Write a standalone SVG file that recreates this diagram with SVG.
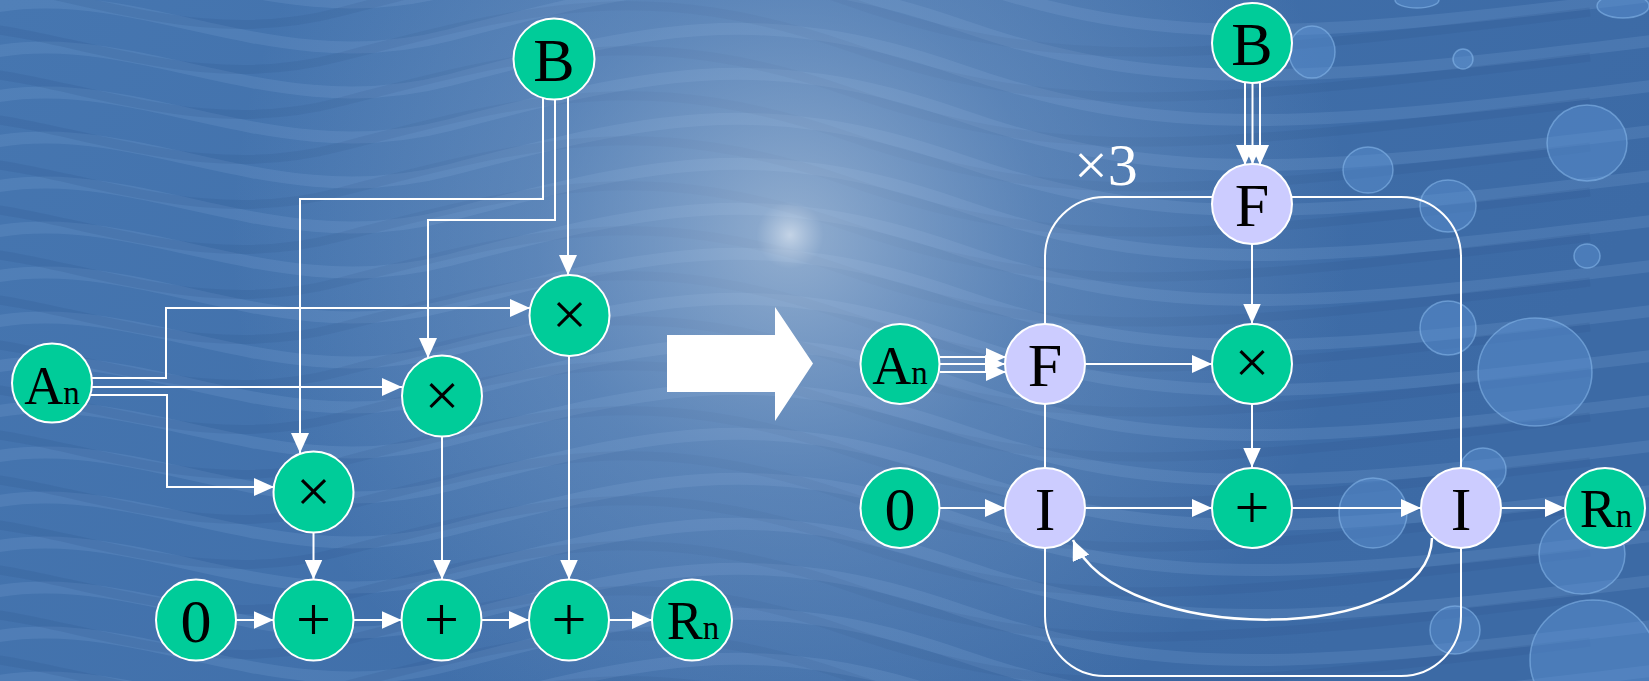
<svg xmlns="http://www.w3.org/2000/svg" xmlns:xlink="http://www.w3.org/1999/xlink" width="1649" height="681" viewBox="0 0 1649 681">
<style>
.g{fill:#00CC99;stroke:#fff;stroke-width:2}
.l{fill:#CCCCFF;stroke:#fff;stroke-width:2}
.t{font-family:"Liberation Serif","Times New Roman",serif;font-size:62px;fill:#000;text-anchor:middle}
.s{font-size:54px}
.sub{font-size:33px}
.c{fill:none;stroke:#fff;stroke-width:2}
.bub{fill:#5d93d3;fill-opacity:.45;stroke:#8bbcee;stroke-opacity:.55;stroke-width:1.5}
</style>
<defs>
<linearGradient id="base" x1="0" y1="0" x2="1" y2="0.3">
<stop offset="0" stop-color="#4676b0"/>
<stop offset="1" stop-color="#3c6aa5"/>
</linearGradient>
<radialGradient id="glow" cx="790" cy="235" r="560" gradientUnits="userSpaceOnUse">
<stop offset="0" stop-color="#e4ecf5" stop-opacity=".8"/>
<stop offset=".06" stop-color="#c6d6e8" stop-opacity=".55"/>
<stop offset=".45" stop-color="#9fbadb" stop-opacity=".28"/>
<stop offset="1" stop-color="#9fbadb" stop-opacity="0"/>
</radialGradient>
<g id="waves" fill="none">
<path d="M -40 -30 C 120 -80 260 40 450 -10 S 760 -90 960 -20 S 1300 40 1700 -10"/>
<path d="M -40 15 C 120 -35 260 85 450 35 S 760 -45 960 25 S 1300 85 1700 35"/>
<path d="M -40 60 C 120 10 260 130 450 80 S 760 0 960 70 S 1300 130 1700 80"/>
<path d="M -40 105 C 120 55 260 175 450 125 S 760 45 960 115 S 1300 175 1700 125"/>
<path d="M -40 150 C 120 100 260 220 450 170 S 760 90 960 160 S 1300 220 1700 170"/>
<path d="M -40 195 C 120 145 260 265 450 215 S 760 135 960 205 S 1300 265 1700 215"/>
<path d="M -40 240 C 120 190 260 310 450 260 S 760 180 960 250 S 1300 310 1700 260"/>
<path d="M -40 285 C 120 235 260 355 450 305 S 760 225 960 295 S 1300 355 1700 305"/>
<path d="M -40 330 C 120 280 260 400 450 350 S 760 270 960 340 S 1300 400 1700 350"/>
<path d="M -40 375 C 120 325 260 445 450 395 S 760 315 960 385 S 1300 445 1700 395"/>
<path d="M -40 420 C 120 370 260 490 450 440 S 760 360 960 430 S 1300 490 1700 440"/>
<path d="M -40 465 C 120 415 260 535 450 485 S 760 405 960 475 S 1300 535 1700 485"/>
<path d="M -40 510 C 120 460 260 580 450 530 S 760 450 960 520 S 1300 580 1700 530"/>
<path d="M -40 555 C 120 505 260 625 450 575 S 760 495 960 565 S 1300 625 1700 575"/>
<path d="M -40 600 C 120 550 260 670 450 620 S 760 540 960 610 S 1300 670 1700 620"/>
<path d="M -40 645 C 120 595 260 715 450 665 S 760 585 960 655 S 1300 715 1700 665"/>
<path d="M -40 690 C 120 640 260 760 450 710 S 760 630 960 700 S 1300 760 1700 710"/>
</g>
<marker id="ah" markerWidth="20" markerHeight="18" refX="20" refY="9" orient="auto" markerUnits="userSpaceOnUse">
<path d="M0,0 L20,9 L0,18 z" fill="#fff"/>
</marker>
</defs>

<g id="background">
<rect x="0" y="0" width="1649" height="681" fill="url(#base)"/>
<use href="#waves" stroke="#7aa6d8" stroke-opacity=".22" stroke-width="12"/>
<use href="#waves" transform="translate(-110,22)" stroke="#2c5589" stroke-opacity=".18" stroke-width="9"/>
<rect x="0" y="0" width="1649" height="681" fill="url(#glow)"/>
<ellipse class="bub" cx="1312" cy="52" rx="23" ry="26"/>
<ellipse class="bub" cx="1463" cy="59" rx="10" ry="10"/>
<ellipse class="bub" cx="1368" cy="170" rx="25" ry="23"/>
<ellipse class="bub" cx="1448" cy="206" rx="28" ry="26"/>
<ellipse class="bub" cx="1587" cy="143" rx="40" ry="38"/>
<ellipse class="bub" cx="1587" cy="256" rx="13" ry="12"/>
<ellipse class="bub" cx="1448" cy="328" rx="28" ry="27"/>
<ellipse class="bub" cx="1535" cy="372" rx="57" ry="54"/>
<ellipse class="bub" cx="1483" cy="470" rx="23" ry="22"/>
<ellipse class="bub" cx="1373" cy="513" rx="34" ry="35"/>
<ellipse class="bub" cx="1582" cy="554" rx="43" ry="40"/>
<ellipse class="bub" cx="1455" cy="630" rx="25" ry="24"/>
<ellipse class="bub" cx="1593" cy="660" rx="63" ry="60"/>
<ellipse class="bub" cx="1417" cy="0" rx="22" ry="8"/>
<ellipse class="bub" cx="1623" cy="6" rx="26" ry="12"/>
</g>

<g id="connectors">
<path class="c" d="M 543 95 V 199 H 300 V 453" marker-end="url(#ah)"/>
<path class="c" d="M 555 95 V 220 H 428 V 358" marker-end="url(#ah)"/>
<path class="c" d="M 568 95 V 275" marker-end="url(#ah)"/>
<path class="c" d="M 88 378 H 166 V 308 H 530" marker-end="url(#ah)"/>
<path class="c" d="M 88 387 H 402" marker-end="url(#ah)"/>
<path class="c" d="M 88 395 H 167 V 487 H 274" marker-end="url(#ah)"/>
<path class="c" d="M 313.5 532 V 579.5" marker-end="url(#ah)"/>
<path class="c" d="M 442 436 V 579.5" marker-end="url(#ah)"/>
<path class="c" d="M 569 356 V 579.5" marker-end="url(#ah)"/>
<path class="c" d="M 236 620 H 273.5" marker-end="url(#ah)"/>
<path class="c" d="M 353.5 620 H 401.5" marker-end="url(#ah)"/>
<path class="c" d="M 481.5 620 H 529" marker-end="url(#ah)"/>
<path class="c" d="M 609 620 H 652" marker-end="url(#ah)"/>
<polygon id="bigArrow" points="667,335 775,335 775,307 813,363.5 775,421 775,392 667,392" fill="#fff"/>
<rect class="c" x="1045" y="197" width="416" height="479" rx="60" ry="60"/>
<path class="c" d="M 1245 83 V 165" marker-end="url(#ah)"/>
<path class="c" d="M 1252.5 84 V 164.5" marker-end="url(#ah)"/>
<path class="c" d="M 1260 83 V 165" marker-end="url(#ah)"/>
<path class="c" d="M 940 357 H 1006" marker-end="url(#ah)"/>
<path class="c" d="M 940 364 H 1005" marker-end="url(#ah)"/>
<path class="c" d="M 940 372 H 1006" marker-end="url(#ah)"/>
<path class="c" d="M 1085 364 H 1212" marker-end="url(#ah)"/>
<path class="c" d="M 1252 244.5 V 323.5" marker-end="url(#ah)"/>
<path class="c" d="M 1252 404.5 V 467.5" marker-end="url(#ah)"/>
<path class="c" d="M 940 508 H 1005" marker-end="url(#ah)"/>
<path class="c" d="M 1085 508 H 1212" marker-end="url(#ah)"/>
<path class="c" d="M 1292 508 H 1421" marker-end="url(#ah)"/>
<path class="c" d="M 1501 508 H 1565" marker-end="url(#ah)"/>
<path class="c" style="stroke-width:2.5" d="M 1432 538 C 1430 645 1120 648 1073 540" marker-end="url(#ah)"/>
<text x="1074" y="185" style="font-family:'Liberation Serif','Times New Roman',serif;font-size:60px;fill:#fff">×3</text>
</g>

<g id="L_B"><ellipse class="g" cx="554" cy="59" rx="40.5" ry="40.5"/><text class="t" x="554" y="81">B</text></g>
<g id="L_mul3"><ellipse class="g" cx="569.5" cy="315.5" rx="40" ry="40.5"/><text class="t" x="569.5" y="335">×</text></g>
<g id="L_mul2"><ellipse class="g" cx="442" cy="396" rx="40" ry="40.5"/><text class="t" x="442" y="415.5">×</text></g>
<g id="L_mul1"><ellipse class="g" cx="313.5" cy="492" rx="40" ry="40.5"/><text class="t" x="313.5" y="511.5">×</text></g>
<g id="L_A"><ellipse class="g" cx="52" cy="383" rx="40" ry="39.5"/><text class="t s" x="52" y="404">A<tspan class="sub">n</tspan></text></g>
<g id="L_0"><ellipse class="g" cx="196" cy="620" rx="40" ry="40.5"/><text class="t" x="196" y="642">0</text></g>
<g id="L_add1"><ellipse class="g" cx="313.5" cy="620" rx="40" ry="40.5"/><text class="t" x="313.5" y="639.5">+</text></g>
<g id="L_add2"><ellipse class="g" cx="441.5" cy="620" rx="40" ry="40.5"/><text class="t" x="441.5" y="639.5">+</text></g>
<g id="L_add3"><ellipse class="g" cx="569" cy="620" rx="40" ry="40.5"/><text class="t" x="569" y="639.5">+</text></g>
<g id="L_R"><ellipse class="g" cx="692" cy="620" rx="40" ry="40.5"/><text class="t s" x="693" y="639">R<tspan class="sub">n</tspan></text></g>

<g id="R_B"><ellipse class="g" cx="1252" cy="43" rx="40" ry="40"/><text class="t" x="1252" y="64.5">B</text></g>
<g id="R_F1"><ellipse class="l" cx="1252" cy="204" rx="40" ry="40"/><text class="t" x="1252" y="225.5">F</text></g>
<g id="R_A"><ellipse class="g" cx="900" cy="364" rx="39.5" ry="40"/><text class="t s" x="900" y="384">A<tspan class="sub">n</tspan></text></g>
<g id="R_F2"><ellipse class="l" cx="1045" cy="364" rx="40" ry="40"/><text class="t" x="1045" y="385.5">F</text></g>
<g id="R_mul"><ellipse class="g" cx="1252" cy="364" rx="40" ry="40"/><text class="t" x="1252" y="383">×</text></g>
<g id="R_0"><ellipse class="g" cx="900" cy="508" rx="39.5" ry="40"/><text class="t" x="900" y="530">0</text></g>
<g id="R_I1"><ellipse class="l" cx="1045" cy="508" rx="40" ry="40"/><text class="t" x="1045" y="529.5">I</text></g>
<g id="R_add"><ellipse class="g" cx="1252" cy="508" rx="40" ry="40"/><text class="t" x="1252" y="527.5">+</text></g>
<g id="R_I2"><ellipse class="l" cx="1461" cy="508" rx="40" ry="40"/><text class="t" x="1461" y="529.5">I</text></g>
<g id="R_R"><ellipse class="g" cx="1605" cy="508" rx="40" ry="40"/><text class="t s" x="1606" y="527">R<tspan class="sub">n</tspan></text></g>
</svg>
